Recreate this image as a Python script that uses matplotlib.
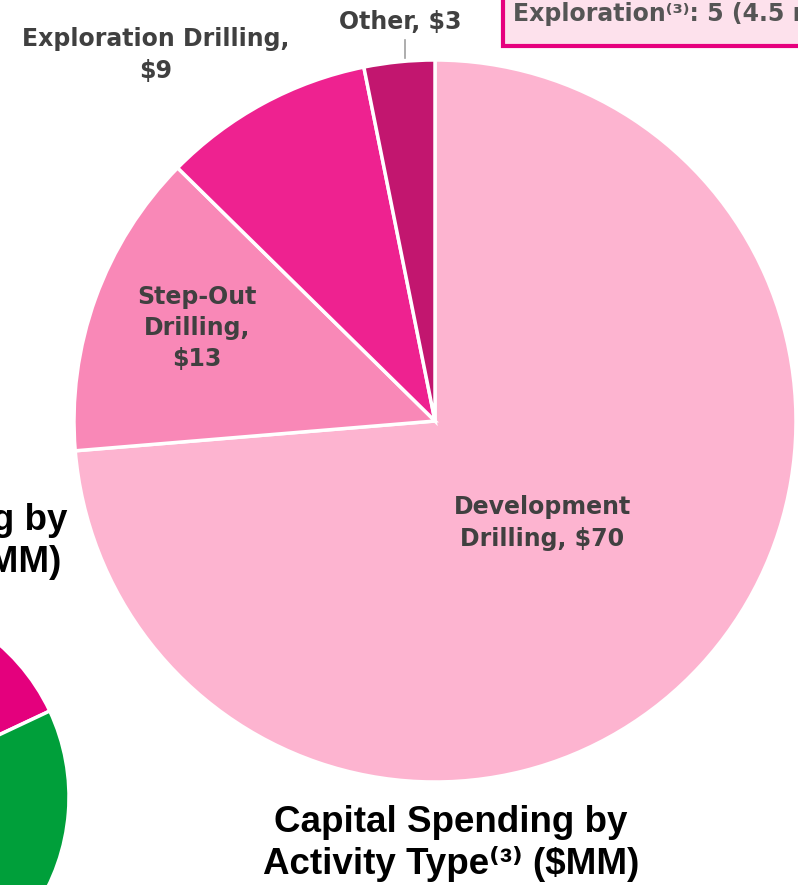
import matplotlib.pyplot as plt
from matplotlib.patches import Rectangle

W, H = 798, 885

# main pie: capital spending by activity type ($MM)
activity = ['Development\nDrilling, $70', 'Step-Out\nDrilling,\n$13',
            'Exploration Drilling,\n$9', 'Other, $3']
spend = [70, 13, 9, 3]
colors = ['#FDB4D0', '#F988B7', '#EE2290', '#C2166F']

# neighbouring pie (mostly cut off at the left edge)
left_spend = [18, 33, 49]
left_colors = ['#E4007D', '#009F3A', '#7F7F7F']

plt.rcParams['font.family'] = ['DejaVu Sans']

fig = plt.figure(figsize=(W / 100, H / 100), dpi=100)
ax = fig.add_axes([0, 0, 1, 1])

wp = dict(edgecolor='white', linewidth=2.5)
ax.pie(spend, colors=colors, startangle=90, counterclock=False,
       center=(435, H - 421), radius=361, wedgeprops=wp, frame=True)
ax.pie(left_spend, colors=left_colors, startangle=90, counterclock=False,
       center=(-133, H - 797), radius=202, wedgeprops=wp, frame=True)

ax.set_xlim(0, W)
ax.set_ylim(0, H)
ax.set_aspect('equal')
ax.axis('off')

lab = dict(color='#404040', fontsize=17, fontweight='bold', ha='center',
           va='center', linespacing=1.38)
ax.text(542, H - 523, activity[0], **lab)
ax.text(197, H - 328, activity[1], **lab)
ax.text(156, H - 55, activity[2], **lab)
ax.text(400, H - 22, activity[3], **lab)
ax.plot([405, 405], [H - 40, H - 58], color='#A0A0A0', lw=1.2)

# titles
tt = dict(family=['Liberation Sans', 'DejaVu Sans'], fontsize=26.5,
          fontweight='bold', color='black', va='center')
ax.text(451, H - 822, 'Capital Spending by', ha='center', **tt)
ax.text(451, H - 864, 'Activity Type⁽³⁾ ($MM)', ha='center', **tt)
ax.text(68, H - 520, 'Capital Spending by', ha='right', **tt)
ax.text(61, H - 562, 'Area ($MM)', ha='right', **tt)

# callout box, top right
ax.add_patch(Rectangle((503, H - 46), 400, 120, facecolor='#FDE1EC',
                       edgecolor='#E6007E', linewidth=3, clip_on=False))
ax.text(513, H - 14, 'Exploration⁽³⁾: 5 (4.5 net)', color='#555555',
        fontsize=17, fontweight='bold', ha='left', va='center')

fig.savefig('out.png', dpi=100)
